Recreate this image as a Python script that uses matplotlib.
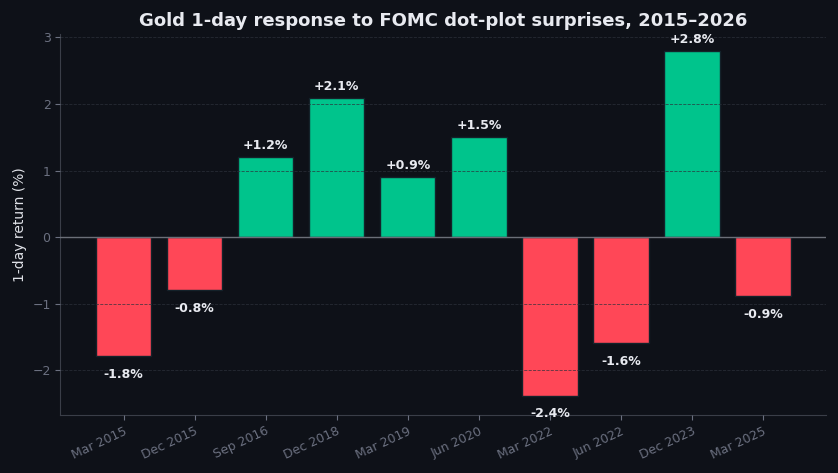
import numpy as np
import matplotlib.pyplot as plt

# FOMC meetings with dot-plot surprises
meetings = ["Mar 2015", "Dec 2015", "Sep 2016", "Dec 2018", "Mar 2019",
            "Jun 2020", "Mar 2022", "Jun 2022", "Dec 2023", "Mar 2025"]
returns = [-1.78, -0.79, 1.2, 2.09, 0.9, 1.5, -2.38, -1.59, 2.79, -0.88]

bg = "#0e1118"
green = "#00c48c"
red = "#ff4757"
tick_col = "#6b7080"

fig, ax = plt.subplots(figsize=(8.38, 4.73), dpi=100)
fig.patch.set_facecolor(bg)
ax.set_facecolor(bg)

x = np.arange(len(meetings))
colors = [green if r >= 0 else red for r in returns]
ax.bar(x, returns, width=0.78, color=colors, edgecolor="#14222a", linewidth=1, zorder=2)

ax.axhline(0, color="#6b6f78", linewidth=1, zorder=3)

for xi, r in zip(x, returns):
    if r >= 0:
        ax.text(xi, r + 0.08, f"+{r:.1f}%", ha="center", va="bottom",
                color="#e8eaf0", fontsize=9, fontweight="bold", zorder=4)
    else:
        ax.text(xi, r - 0.18, f"{r:.1f}%", ha="center", va="top",
                color="#e8eaf0", fontsize=9, fontweight="bold", zorder=4)

ax.set_xticks(x)
ax.set_xticklabels(meetings, rotation=25, ha="right", rotation_mode="anchor")
ax.set_xlim(-0.89, 9.89)
ax.set_ylim(-2.67, 3.05)
ax.set_yticks([-2, -1, 0, 1, 2, 3])
ax.set_yticklabels(["\u22122", "\u22121", "0", "1", "2", "3"])

ax.grid(axis="y", color="#2c313b", linestyle="--", linewidth=0.6, alpha=0.8, zorder=5)
ax.set_axisbelow(False)
ax.tick_params(colors=tick_col, labelsize=9)
for s in ["top", "right"]:
    ax.spines[s].set_visible(False)
for s in ["left", "bottom"]:
    ax.spines[s].set_color("#3a3e48")

ax.set_ylabel("1-day return (%)", color="#e0e2e8", fontsize=10)
ax.set_title("Gold 1-day response to FOMC dot-plot surprises, 2015\u20132026",
             color="#e8eaf0", fontsize=13, fontweight="bold")

plt.subplots_adjust(left=0.072, right=0.986, top=0.928, bottom=0.123)
plt.savefig("out.png", dpi=100, facecolor=bg)
